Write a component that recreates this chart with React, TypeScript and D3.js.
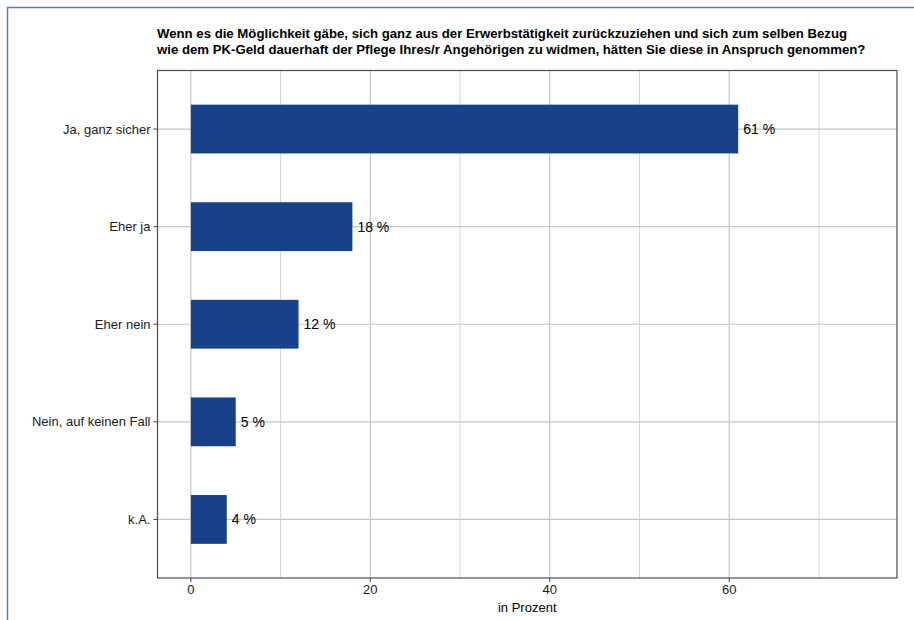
import React from "react";
import * as d3 from "d3";

const categories = ["Ja, ganz sicher", "Eher ja", "Eher nein", "Nein, auf keinen Fall", "k.A."];
const values = [61, 18, 12, 5, 4];
const majorTicks = [0, 20, 40, 60];
const minorTicks = [10, 30, 50, 70];
const titleLines = [
  "Wenn es die Möglichkeit gäbe, sich ganz aus der Erwerbstätigkeit zurückzuziehen und sich zum selben Bezug",
  "wie dem PK-Geld dauerhaft der Pflege Ihres/r Angehörigen zu widmen, hätten Sie diese in Anspruch genommen?",
];
const xTitle = "in Prozent";

export default function App() {
  const W = 914, H = 620;
  const left = 157.5, right = 897, top = 70.5, bottom = 578;
  const x = d3.scaleLinear().domain([-3.72, 78.7]).range([left, right]);
  const y = d3.scalePoint<string>().domain(categories).range([top, bottom]).padding(0.6);
  const bh = y.step() * 0.5;
  const font = "Liberation Sans, Arial, sans-serif";
  const barColor = "#17428a";
  return (
    <svg width={W} height={H} style={{ position: "absolute", left: 0, top: 0, fontFamily: font }}>
      <rect x={0} y={0} width={W} height={H} fill="#fff" />
      <rect x={7.5} y={7.5} width={W + 20} height={H + 20} fill="none" stroke="#5b7bb5" strokeWidth={1.5} />
      {titleLines.map((t, i) => (
        <text key={i} x={157} y={37.5 + i * 16} fontSize={13.2} fontWeight="bold" fill="#000">{t}</text>
      ))}
      {minorTicks.map((t) => (
        <line key={"m" + t} x1={x(t)} x2={x(t)} y1={top} y2={bottom} stroke="#d6d6d6" strokeWidth={1} />
      ))}
      {majorTicks.map((t) => (
        <line key={"M" + t} x1={x(t)} x2={x(t)} y1={top} y2={bottom} stroke="#c4c4c4" strokeWidth={1.2} />
      ))}
      {categories.map((c) => (
        <line key={"h" + c} x1={left} x2={right} y1={y(c)} y2={y(c)} stroke="#c4c4c4" strokeWidth={1.2} />
      ))}
      {categories.map((c, i) => (
        <rect key={"b" + c} x={x(0)} y={(y(c) as number) - bh / 2} width={x(values[i]) - x(0)} height={bh} fill={barColor} />
      ))}
      {categories.map((c, i) => (
        <text key={"v" + c} x={x(values[i]) + 5} y={y(c)} dy="0.35em" fontSize={14} fill="#000">{values[i]} %</text>
      ))}
      <rect x={left} y={top} width={right - left} height={bottom - top} fill="none" stroke="#4d4d4d" strokeWidth={1.2} />
      {categories.map((c) => {
        const cy = y(c) as number;
        return (
          <g key={"yl" + c}>
            <line x1={left - 4} x2={left} y1={cy} y2={cy} stroke="#4d4d4d" strokeWidth={1.1} />
            <text x={left - 7} y={cy} dy="0.35em" textAnchor="end" fontSize={13} fill="#1a1a1a">{c}</text>
          </g>
        );
      })}
      {majorTicks.map((t) => (
        <g key={"xl" + t}>
          <line x1={x(t)} x2={x(t)} y1={bottom} y2={bottom + 4} stroke="#4d4d4d" strokeWidth={1.1} />
          <text x={x(t)} y={bottom + 16} textAnchor="middle" fontSize={13} fill="#1a1a1a">{t}</text>
        </g>
      ))}
      <text x={(left + right) / 2} y={612} textAnchor="middle" fontSize={13} fill="#000">{xTitle}</text>
    </svg>
  );
}
